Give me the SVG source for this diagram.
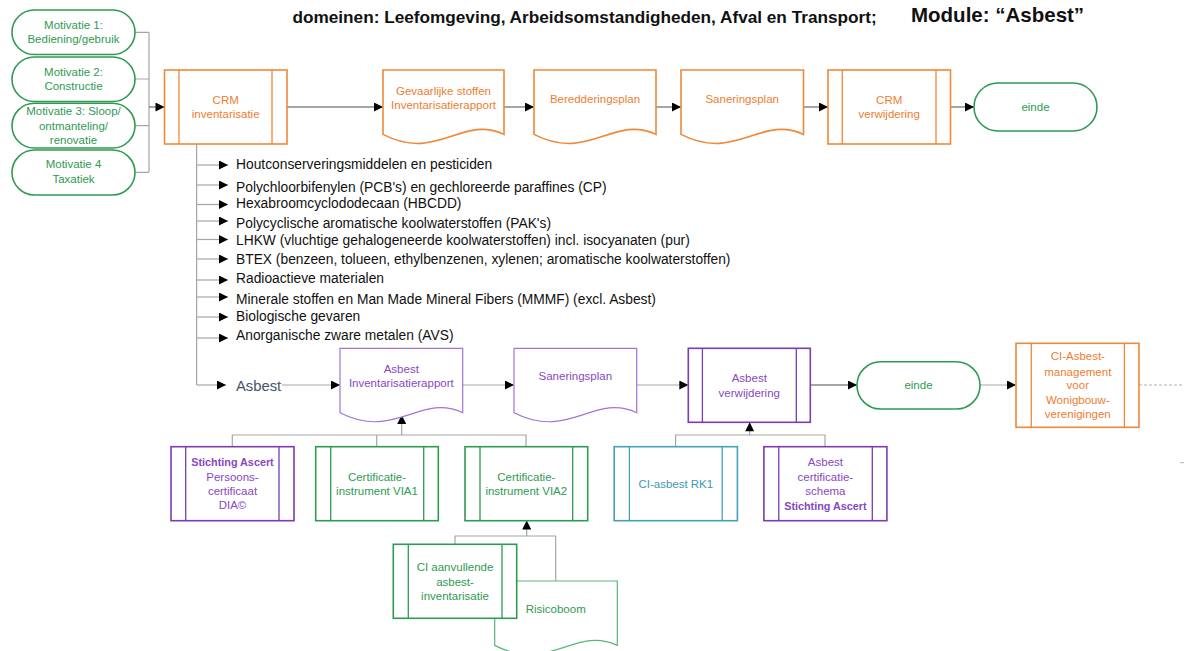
<svg xmlns="http://www.w3.org/2000/svg" width="1184" height="651" viewBox="0 0 1184 651">
<defs>
<marker id="arr" viewBox="0 0 10 10" refX="10" refY="5" markerWidth="10" markerHeight="9" markerUnits="userSpaceOnUse" orient="auto"><path d="M0,0 L10,5 L0,10 z" fill="#000"/></marker>
<style>
.bg{fill:#fff}
.t{font-family:"Liberation Sans",Arial,sans-serif;font-size:11.5px;text-anchor:middle}
.b{font-weight:bold;font-size:10.8px}
.li{font-family:"Liberation Sans",Arial,sans-serif;font-size:13.8px;fill:#111}
.hd{font-family:"Liberation Sans",Arial,sans-serif;font-weight:bold;fill:#111}
.or{fill:#fff;stroke:#f0883a;stroke-width:1.6}
.orl{stroke:#f0883a;stroke-width:1.3;fill:none}
.ort{fill:#ee7d31}
.gr{fill:#fff;stroke:#2f9a52;stroke-width:1.6}
.grl{stroke:#2f9a52;stroke-width:1.3;fill:none}
.grd{fill:#fff;stroke:#5cb47c;stroke-width:1.2}
.grt{fill:#2f9a52}
.pu{fill:#fff;stroke:#7a3db2;stroke-width:1.6}
.pul{stroke:#7a3db2;stroke-width:1.3;fill:none}
.pud{fill:#fff;stroke:#a274d4;stroke-width:1.2}
.put{fill:#8748c0}
.te{fill:#fff;stroke:#45a0b9;stroke-width:1.6}
.tel{stroke:#45a0b9;stroke-width:1.3;fill:none}
.tet{fill:#3d97b3}
.c{stroke:#4a4a4a;stroke-width:1;fill:none}
.g{stroke:#a6a6a6;stroke-width:1.2;fill:none}
.a{marker-end:url(#arr)}
</style>
</defs>
<rect class="bg" x="0" y="0" width="1184" height="651"/>

<g id="title">
<text class="hd" x="292.5" y="23" font-size="17.2">domeinen: Leefomgeving, Arbeidsomstandigheden, Afval en Transport;</text>
<text class="hd" x="911" y="22" font-size="20.5">Module: “Asbest”</text>
</g>

<g id="connectors">
<path class="g" d="M135,32.3 H149 M135,79 H149 M135,125.7 H149 M135,172.3 H149 M149,32.3 V172.3"/>
<path class="c a" d="M149,107 H164.5"/>
<path class="c a" d="M287,107 H383"/>
<path class="c a" d="M504,107 H534"/>
<path class="c a" d="M656,107 H681"/>
<path class="c a" d="M803.5,107 H828"/>
<path class="c a" d="M950.5,107 H974"/>
<path class="g" d="M196.6,144 V385"/>
<path class="g a" d="M196.6,165 H228"/>
<path class="g a" d="M196.6,185 H228"/>
<path class="g a" d="M196.6,204.5 H228"/>
<path class="g a" d="M196.6,221 H228"/>
<path class="g a" d="M196.6,239.5 H228"/>
<path class="g a" d="M196.6,259 H228"/>
<path class="g a" d="M196.6,280 H228"/>
<path class="g a" d="M196.6,297 H228"/>
<path class="g a" d="M196.6,317 H228"/>
<path class="g a" d="M196.6,338 H228"/>
<path class="g a" d="M196.6,385 H226"/>
<path class="g a" d="M282,385 H340"/>
<path class="g a" d="M462.7,385 H514"/>
<path class="g a" d="M636.7,385 H688.3"/>
<path class="c a" d="M810.4,385 H857"/>
<path class="g a" d="M980,385 H1016"/>
<path d="M1139,385 H1184" stroke="#b0b0b0" stroke-width="1" stroke-dasharray="3,2" fill="none"/>
<path d="M1180,462.7 H1184" stroke="#b0b0b0" stroke-width="1" fill="none"/>
<path class="g" d="M232.3,446.7 V435 H526 V446.7 M376.7,435 V446.7"/>
<path class="g a" d="M401.7,435 V415"/>
<path class="g" d="M675.6,446.7 V435 H825 V446.7"/>
<path class="g a" d="M749.7,435 V422.3"/>
<path class="g" d="M455,544.3 V536 H555.7 V581"/>
<path class="g a" d="M526.7,536 V520.5"/>
</g>

<g id="motivatie1"><rect class="gr" x="12" y="10" width="123" height="44.5" rx="22.2"/><text class="t grt" x="73.5" y="29">Motivatie 1:</text><text class="t grt" x="73.5" y="43.3">Bediening/gebruik</text></g>
<g id="motivatie2"><rect class="gr" x="12" y="57" width="123" height="44.5" rx="22.2"/><text class="t grt" x="73.5" y="75.7">Motivatie 2:</text><text class="t grt" x="73.5" y="90">Constructie</text></g>
<g id="motivatie3"><rect class="gr" x="12" y="103.3" width="123" height="44.7" rx="22.3"/><text class="t grt" x="73.5" y="115">Motivatie 3: Sloop/</text><text class="t grt" x="73.5" y="130">ontmanteling/</text><text class="t grt" x="73.5" y="144">renovatie</text></g>
<g id="motivatie4"><rect class="gr" x="12" y="150" width="123" height="45" rx="22.5"/><text class="t grt" x="73.5" y="168.3">Motivatie 4</text><text class="t grt" x="73.5" y="183.3">Taxatiek</text></g>

<g id="crm-inventarisatie"><rect class="or" x="164.5" y="70" width="122.5" height="74"/><path class="orl" d="M179,70 V144 M272,70 V144"/><text class="t ort" x="225.7" y="104">CRM</text><text class="t ort" x="225.7" y="118.3">inventarisatie</text></g>

<g id="gevaarlijke-stoffen"><path class="or" d="M383,134.4 C437.5,162.5 461.6,114.4 504,134.4 V70 H383 Z"/><text class="t ort" x="443.5" y="94.7">Gevaarlijke stoffen</text><text class="t ort" x="443.5" y="109">Inventarisatierapport</text></g>

<g id="beredderingsplan"><path class="or" d="M534,134.4 C588.9,162.5 613.3,114.4 656,134.4 V70 H534 Z"/><text class="t ort" x="595" y="103">Beredderingsplan</text></g>

<g id="saneringsplan-crm"><path class="or" d="M681,134.4 C736.1,162.5 760.6,114.4 803.5,134.4 V70 H681 Z"/><text class="t ort" x="742.2" y="103">Saneringsplan</text></g>

<g id="crm-verwijdering"><rect class="or" x="828" y="70" width="122.5" height="74"/><path class="orl" d="M842.3,70 V144 M936,70 V144"/><text class="t ort" x="889.2" y="104">CRM</text><text class="t ort" x="889.2" y="118.3">verwijdering</text></g>

<g id="einde-crm"><rect class="gr" x="974" y="83" width="123" height="48" rx="24"/><text class="t grt" x="1035.5" y="111">einde</text></g>

<g id="stoffen-lijst">
<text class="li" x="236" y="169">Houtconserveringsmiddelen en pesticiden</text>
<text class="li" x="236" y="191.5">Polychloorbifenylen (PCB's) en gechloreerde paraffines (CP)</text>
<text class="li" x="236" y="208">Hexabroomcyclododecaan (HBCDD)</text>
<text class="li" x="236" y="227.5">Polycyclische aromatische koolwaterstoffen (PAK's)</text>
<text class="li" x="236" y="245">LHKW (vluchtige gehalogeneerde koolwaterstoffen) incl. isocyanaten (pur)</text>
<text class="li" x="236" y="264">BTEX (benzeen, tolueen, ethylbenzenen, xylenen; aromatische koolwaterstoffen)</text>
<text class="li" x="236" y="283">Radioactieve materialen</text>
<text class="li" x="236" y="304">Minerale stoffen en Man Made Mineral Fibers (MMMF) (excl. Asbest)</text>
<text class="li" x="236" y="321">Biologische gevaren</text>
<text class="li" x="236" y="340">Anorganische zware metalen (AVS)</text>
</g>

<g id="asbest-label"><text x="236" y="390.5" font-family="Liberation Sans, Arial, sans-serif" font-size="14.8" fill="#44546a">Asbest</text></g>

<g id="asbest-inventarisatierapport"><path class="pud" d="M340,412.7 C395.2,440.8 419.8,392.7 462.7,412.7 V348.3 H340 Z"/><text class="t put" x="401.3" y="373.3">Asbest</text><text class="t put" x="401.3" y="387.3">Inventarisatierapport</text></g>

<g id="saneringsplan-asbest"><path class="pud" d="M514,412.7 C569.2,440.8 593.8,392.7 636.7,412.7 V348.3 H514 Z"/><text class="t put" x="575.3" y="380">Saneringsplan</text></g>

<g id="asbest-verwijdering"><rect class="pu" x="688.3" y="348.3" width="122" height="74"/><path class="pul" d="M702.4,348.3 V422.3 M796.3,348.3 V422.3"/><text class="t put" x="749.3" y="382.3">Asbest</text><text class="t put" x="749.3" y="397.3">verwijdering</text></g>

<g id="einde-asbest"><rect class="gr" x="857" y="361.7" width="123" height="47.3" rx="23.6"/><text class="t grt" x="918.5" y="389">einde</text></g>

<g id="ci-asbest-management"><rect class="or" x="1016" y="343.3" width="123" height="84"/><path class="orl" d="M1031.3,343.3 V427.3 M1124.4,343.3 V427.3"/><text class="t ort" x="1077.8" y="360">CI-Asbest-</text><text class="t ort" x="1077.8" y="375.7">management</text><text class="t ort" x="1077.8" y="389">voor</text><text class="t ort" x="1077.8" y="404">Wonigbouw-</text><text class="t ort" x="1077.8" y="418">verenigingen</text></g>

<g id="stichting-ascert-persoonscertificaat"><rect class="pu" x="171" y="446.7" width="123" height="74"/><path class="pul" d="M185.7,446.7 V520.7 M279,446.7 V520.7"/><text class="t put b" x="232.5" y="465.7">Stichting Ascert</text><text class="t put" x="232.5" y="480.7">Persoons-</text><text class="t put" x="232.5" y="494.7">certificaat</text><text class="t put" x="232.5" y="509">DIA©</text></g>

<g id="via1"><rect class="gr" x="315.7" y="446.7" width="122.6" height="74"/><path class="grl" d="M330.7,446.7 V520.7 M423.7,446.7 V520.7"/><text class="t grt" x="377" y="480.7">Certificatie-</text><text class="t grt" x="377" y="494.7">instrument VIA1</text></g>

<g id="via2"><rect class="gr" x="465" y="446.7" width="122.7" height="74"/><path class="grl" d="M480,446.7 V520.7 M572.7,446.7 V520.7"/><text class="t grt" x="526.3" y="480.7">Certificatie-</text><text class="t grt" x="526.3" y="494.7">instrument VIA2</text></g>

<g id="ci-asbest-rk1"><rect class="te" x="614.2" y="446.7" width="123.2" height="74"/><path class="tel" d="M629.4,446.7 V520.7 M722.2,446.7 V520.7"/><text class="t tet" x="675.8" y="488">CI-asbest RK1</text></g>

<g id="asbest-certificatieschema"><rect class="pu" x="763.9" y="446.7" width="123" height="74"/><path class="pul" d="M778.8,446.7 V520.7 M872.3,446.7 V520.7"/><text class="t put" x="825.4" y="465.7">Asbest</text><text class="t put" x="825.4" y="480.7">certificatie-</text><text class="t put" x="825.4" y="495">schema</text><text class="t put b" x="825.4" y="509.7">Stichting Ascert</text></g>

<g id="risicoboom"><path class="grd" d="M494.7,645.4 C549.9,673.5 574.4,625.4 617.3,645.4 V581 H494.7 Z"/><text class="t grt" x="555.7" y="613.3">Risicoboom</text></g>

<g id="ci-aanvullende-asbestinventarisatie"><rect class="gr" x="393.3" y="544.3" width="123.4" height="74"/><path class="grl" d="M408.3,544.3 V618.3 M502,544.3 V618.3"/><text class="t grt" x="455" y="571.3">CI aanvullende</text><text class="t grt" x="455" y="585.7">asbest-</text><text class="t grt" x="455" y="600">inventarisatie</text></g>
</svg>
